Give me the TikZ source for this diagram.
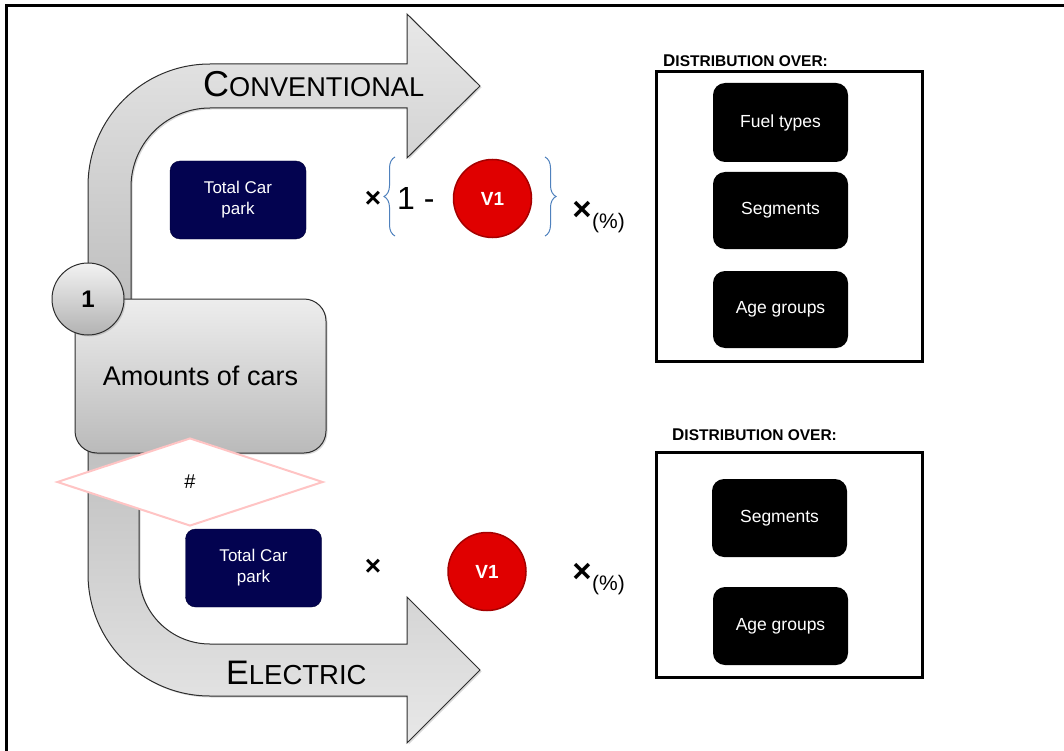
\documentclass[tikz,border=0pt]{standalone}
\usepackage{fontspec}
\setmainfont{Liberation Sans}
\usetikzlibrary{shapes.geometric,shadows,decorations.pathreplacing}

\definecolor{navy}{RGB}{3,3,80}
\definecolor{vred}{RGB}{224,0,0}
\definecolor{vredd}{RGB}{165,0,0}
\definecolor{brblue}{RGB}{79,129,189}
\definecolor{pinkline}{RGB}{255,196,196}
\definecolor{edge}{RGB}{45,45,45}

\newcommand{\setfs}[2]{\fontsize{#1pt}{#2pt}\selectfont}

\tikzset{
  flowarrow/.style={draw=edge, line width=1pt,
    drop shadow={shadow xshift=1.5pt, shadow yshift=-1.5pt, opacity=0.3}},
  greybox/.style={rectangle, rounded corners=22pt, draw=edge, line width=1pt,
    top color=black!7, bottom color=black!27, inner sep=0pt,
    drop shadow={shadow xshift=1.5pt, shadow yshift=-1.5pt, opacity=0.3}},
  stepcircle/.style={circle, draw=edge, line width=1pt, inner sep=0pt,
    top color=black!5, bottom color=black!30, minimum size=72pt,
    font=\bfseries\setfs{24}{24},
    drop shadow={shadow xshift=1.5pt, shadow yshift=-1.5pt, opacity=0.3}},
  carpark/.style={rectangle, rounded corners=10pt, fill=navy, draw=navy!70!black,
    text=white, minimum width=136pt, minimum height=78pt, inner sep=0pt,
    align=center, font=\setfs{17}{21}},
  distbox/.style={rectangle, rounded corners=12pt, fill=black, text=white,
    minimum width=135pt, minimum height=78pt, inner sep=0pt,
    font=\setfs{17.5}{21}},
  vone/.style={circle, fill=vred, draw=vredd, line width=1.5pt,
    minimum size=78pt, inner sep=0pt, text=white, font=\bfseries\setfs{19}{20}},
  panel/.style={draw=black, line width=3pt},
  timesign/.style={inner sep=0pt, font=\bfseries\setfs{28}{28}},
  bigtimes/.style={inner sep=0pt, font=\bfseries\setfs{33}{33}},
  pct/.style={inner sep=0pt, anchor=west, font=\setfs{21}{21}},
  panellabel/.style={inner sep=0pt, anchor=base west, font=\bfseries},
  curly/.style={draw=brblue, line width=1pt, decorate,
    decoration={brace, amplitude=11pt}}
}

\begin{document}
\begin{tikzpicture}[x=1pt, y=-1pt]
\useasboundingbox (0,0) rectangle (1064,751);

% outer frame (top and left edges)
\draw[line width=3pt] (6.5,751) -- (6.5,5.5) -- (1064,5.5);

% bent arrow up to the conventional branch
\path[flowarrow, top color=black!9, bottom color=black!25]
  (88,300) -- (88,186) .. controls (88,118.6) and (142.6,64) .. (210,64)
  -- (407,64) -- (407,14) -- (480,86) -- (407,158) -- (407,108)
  -- (210,108) .. controls (166.4,108) and (131,143.4) .. (131,187)
  -- (131,300) -- cycle;

% bent arrow down to the electric branch
\path[flowarrow, top color=black!25, bottom color=black!9]
  (88,440) -- (88,574) .. controls (88,641.4) and (142.6,696) .. (210,696)
  -- (407,696) -- (407,743) -- (480,670) -- (407,597) -- (407,644)
  -- (210,644) .. controls (170.8,644) and (139,612.2) .. (139,573)
  -- (139,440) -- cycle;

\node[inner sep=0pt, anchor=base west] (conv) at (203,97)
  {\setfs{36}{36}C\setfs{27.2}{27.2}ONVENTIONAL};
\node[inner sep=0pt, anchor=base west] (elec) at (226,684)
  {\setfs{34}{34}E\setfs{27.5}{27.5}LECTRIC};

% central block
\node[greybox, minimum width=251pt, minimum height=154pt,
      font=\setfs{27}{27}] (amount) at (200.5,376) {Amounts of cars};
\node[stepcircle] (one) at (88,299) {1};

\node[diamond, draw=pinkline, line width=2pt, fill=white, inner sep=0pt,
      minimum width=266pt, minimum height=88pt, font=\setfs{20}{20}]
      (hash) at (190,482) {\#};

% conventional formula
\node[carpark] (parkA) at (238,200) {Total Car\\park};
\node[timesign] (timesA) at (373,199) {×};
\draw[curly] (395,236) -- (395,157);
\node[inner sep=0pt, anchor=base west, font=\setfs{32}{32}] (oneminus) at (397,210) {1 -};
\node[vone] (vA) at (492.5,198.5) {V1};
\draw[curly] (545,157) -- (545,236);
\node[bigtimes] (pctxA) at (582,211) {×};
\node[pct] (pctA) at (592,223) {(\%)};

% electric formula
\node[carpark] (parkB) at (253.5,568) {Total Car\\park};
\node[timesign] (timesB) at (373,567) {×};
\node[vone] (vB) at (487,571.5) {V1};
\node[bigtimes] (pctxB) at (582,573) {×};
\node[pct] (pctB) at (592,585) {(\%)};

% distribution panel, conventional
\node[panellabel] (labA) at (663,67)
  {\setfs{17}{17}D\setfs{15.5}{15.5}ISTRIBUTION OVER:};
\draw[panel] (656,72) rectangle (922,361);
\node[distbox, minimum height=79pt] (fuelA) at (780.5,122.5) {Fuel types};
\node[distbox, minimum height=77pt] (segA) at (780.5,210.5) {Segments};
\node[distbox, minimum height=77pt] (ageA) at (780.5,309.5) {Age groups};

% distribution panel, electric
\node[panellabel] (labB) at (672,440)
  {\setfs{17}{17}D\setfs{15.5}{15.5}ISTRIBUTION OVER:};
\draw[panel] (656,452) rectangle (922,677);
\node[distbox] (segB) at (779.5,518) {Segments};
\node[distbox] (ageB) at (780.5,626) {Age groups};
\end{tikzpicture}
\end{document}
